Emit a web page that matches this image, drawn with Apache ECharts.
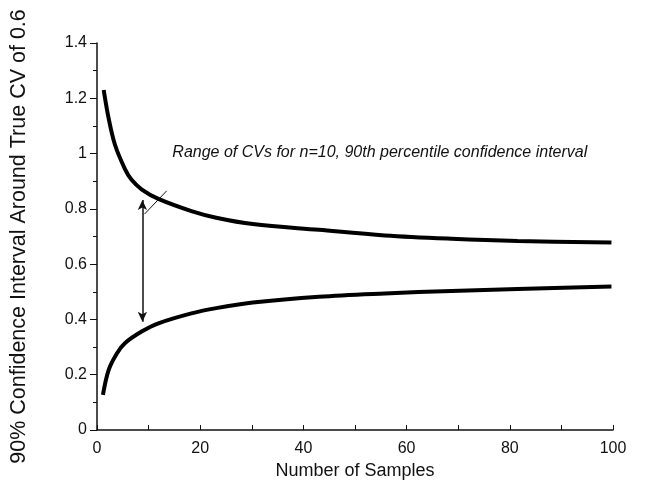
<!DOCTYPE html>
<html>
<head>
<meta charset="utf-8">
<script src="https://cdn.jsdelivr.net/npm/echarts@6/dist/echarts.min.js"></script>
<style>
html,body{margin:0;padding:0;background:#fff;}
#chart{width:650px;height:497px;}
</style>
</head>
<body>
<div id="chart"></div>
<script>
// Data
var nUpper  = [1.3, 2.25, 3.5, 5.4, 6.7, 8.7, 11.9, 18.3, 23.1, 30.2, 43, 55.8, 68.7, 81.5, 99.7];
var upperCV = [1.23, 1.128, 1.031, 0.945, 0.905, 0.870, 0.836, 0.792, 0.768, 0.745, 0.724, 0.704, 0.692, 0.684, 0.678];
var nLower  = [1.15, 2.25, 3.85, 5.4, 8.65, 11.9, 18.3, 23.1, 30.2, 43, 55.8, 68.7, 81.5, 99.7];
var lowerCV = [0.127, 0.217, 0.277, 0.314, 0.356, 0.386, 0.422, 0.441, 0.461, 0.482, 0.494, 0.503, 0.510, 0.519];
var xTicks = [0, 20, 40, 60, 80, 100];
var yTicks = [0, 0.2, 0.4, 0.6, 0.8, 1, 1.2, 1.4];
var annotationText = 'Range of CVs for n=10, 90th percentile confidence interval';
var xTitle = 'Number of Samples';
var yTitle = '90% Confidence Interval Around True CV of 0.6';

function pairs(xs, ys) { return xs.map(function (x, i) { return [x, ys[i]]; }); }

var chart = echarts.init(document.getElementById('chart'), null, {renderer: 'canvas'});
var FONT = '"Liberation Sans", Arial, Helvetica, sans-serif';

var option = {
  backgroundColor: '#fff',
  animation: false,
  textStyle: {fontFamily: FONT, color: '#111'},
  grid: {left: 93, right: 37, top: 43, bottom: 67, containLabel: false},
  xAxis: {
    type: 'value', min: xTicks[0], max: xTicks[xTicks.length - 1], interval: 20,
    name: xTitle, nameLocation: 'middle', nameGap: 27,
    nameTextStyle: {fontFamily: FONT, fontSize: 18, color: '#111'},
    axisLine: {show: true, onZero: false, lineStyle: {color: '#111', width: 1.5}},
    axisTick: {show: true, inside: true, length: 5, lineStyle: {color: '#111', width: 1}},
    minorTick: {show: true, splitNumber: 2, length: 5, lineStyle: {color: '#111', width: 1}},
    axisLabel: {fontFamily: FONT, fontSize: 16, color: '#111', margin: 11},
    splitLine: {show: false}
  },
  yAxis: {
    type: 'value', min: yTicks[0], max: yTicks[yTicks.length - 1], interval: 0.2,
    name: yTitle, nameLocation: 'middle', nameGap: 67, nameRotate: 90,
    nameTextStyle: {fontFamily: FONT, fontSize: 21.5, color: '#111'},
    axisLine: {show: true, onZero: false, lineStyle: {color: '#111', width: 1.5}},
    axisTick: {show: true, inside: false, length: 7, lineStyle: {color: '#111', width: 1}},
    minorTick: {show: true, splitNumber: 2, length: 4, lineStyle: {color: '#111', width: 1}},
    axisLabel: {fontFamily: FONT, fontSize: 16, color: '#111', margin: 10},
    splitLine: {show: false}
  },
  series: [
    {
      type: 'line', name: 'upper', data: pairs(nUpper, upperCV),
      smooth: 0.35, showSymbol: false, symbol: 'none',
      lineStyle: {color: '#000', width: 4},
      markLine: {
        silent: true, symbol: ['none', 'none'], animation: false,
        lineStyle: {color: '#111', width: 1, type: 'solid'},
        label: {show: false},
        data: [[{coord: [13.5, 0.865]}, {coord: [9.2, 0.781]}]]
      },
      markPoint: {
        silent: true, symbol: 'circle', symbolSize: 0,
        label: {
          show: true, position: 'right', distance: 0,
          formatter: annotationText,
          fontFamily: FONT, fontStyle: 'italic', fontSize: 16, color: '#111'
        },
        data: [{coord: [14.6, 1.003]}]
      }
    },
    {
      type: 'line', name: 'lower', data: pairs(nLower, lowerCV),
      smooth: 0.35, showSymbol: false, symbol: 'none',
      lineStyle: {color: '#000', width: 4},
      markLine: {
        silent: true, symbol: ['arrow', 'arrow'], symbolSize: [7, 10], animation: false,
        lineStyle: {color: '#111', width: 1.5, type: 'solid'},
        label: {show: false},
        data: [[{coord: [8.8, 0.832]}, {coord: [8.8, 0.392]}]]
      }
    }
  ]
};
chart.setOption(option);
</script>
</body>
</html>
